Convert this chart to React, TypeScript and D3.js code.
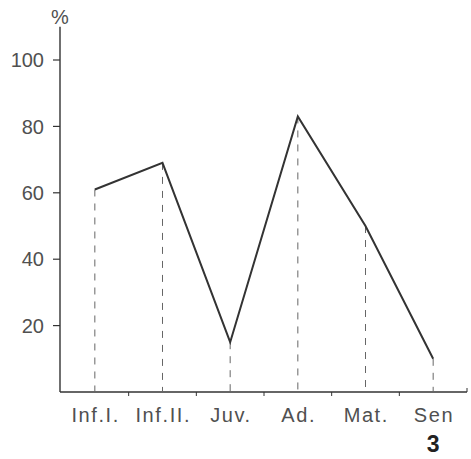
import React from "react";
import * as d3 from "d3";

const categories = ["Inf.I.", "Inf.II.", "Juv.", "Ad.", "Mat.", "Sen"];
const values = [61, 69, 15, 83, 50, 10];
const yTicks = [20, 40, 60, 80, 100];
const yUnit = "%";
const figureNumber = "3";

export default function App() {
  const W = 471;
  const H = 459;
  const x = d3.scalePoint<string>().domain(categories).range([61, 467]).padding(0.5);
  const y = d3.scaleLinear().domain([0, 100]).range([392, 60]);
  const step = x.step();
  const boundaries = d3.range(1, categories.length + 1).map((i) => 61 + step * i);
  const line = d3
    .line<number>()
    .x((_, i) => x(categories[i]) as number)
    .y((d) => y(d));
  const textColor = "#505050";
  const ink = "#333";
  const font = "'Liberation Sans', Arial, sans-serif";
  const ls = 1.6;
  return (
    <svg
      width={W}
      height={H}
      style={{ position: "absolute", left: 0, top: 0, background: "#fff" }}
    >
      {/* y axis */}
      <line x1={60} x2={60} y1={y(110)} y2={y(0)} stroke={ink} strokeWidth={1.4} />
      <text x={60} y={24} textAnchor="middle" fontFamily={font} fontSize={20} fill={textColor}>
        {yUnit}
      </text>
      {yTicks.map((t) => (
        <g key={t}>
          <line x1={53} x2={60} y1={y(t)} y2={y(t)} stroke={ink} strokeWidth={1.2} />
          <text
            x={44}
            y={y(t)}
            dy="0.36em"
            textAnchor="end"
            fontFamily={font}
            fontSize={20}
            fill={textColor}
          >
            {t}
          </text>
        </g>
      ))}
      {/* x axis */}
      <line x1={60} x2={boundaries[boundaries.length - 1]} y1={y(0)} y2={y(0)} stroke={ink} strokeWidth={1.4} />
      {boundaries.map((b, i) =>
        i < boundaries.length - 1 ? (
          <line key={b} x1={b} x2={b} y1={y(0)} y2={y(0) + 4} stroke={ink} strokeWidth={1} />
        ) : (
          <line key={b} x1={b} x2={b} y1={y(0) - 4} y2={y(0)} stroke={ink} strokeWidth={1} />
        )
      )}
      {categories.map((c) => (
        <text
          key={c}
          x={(x(c) as number) + ls / 2}
          y={422}
          textAnchor="middle"
          fontFamily={font}
          fontSize={20}
          fill={textColor}
          letterSpacing={ls}
        >
          {c}
        </text>
      ))}
      {/* dashed drop lines */}
      {values.map((v, i) => (
        <line
          key={i}
          x1={x(categories[i])}
          x2={x(categories[i])}
          y1={y(v)}
          y2={y(0)}
          stroke="#666"
          strokeWidth={1}
          strokeDasharray="7 7"
        />
      ))}
      {/* data line */}
      <path d={line(values) ?? ""} fill="none" stroke={ink} strokeWidth={2} strokeLinejoin="miter" />
      <text
        x={x(categories[categories.length - 1])}
        y={452}
        textAnchor="middle"
        fontFamily={font}
        fontSize={23}
        fontWeight="bold"
        fill="#222"
      >
        {figureNumber}
      </text>
    </svg>
  );
}
